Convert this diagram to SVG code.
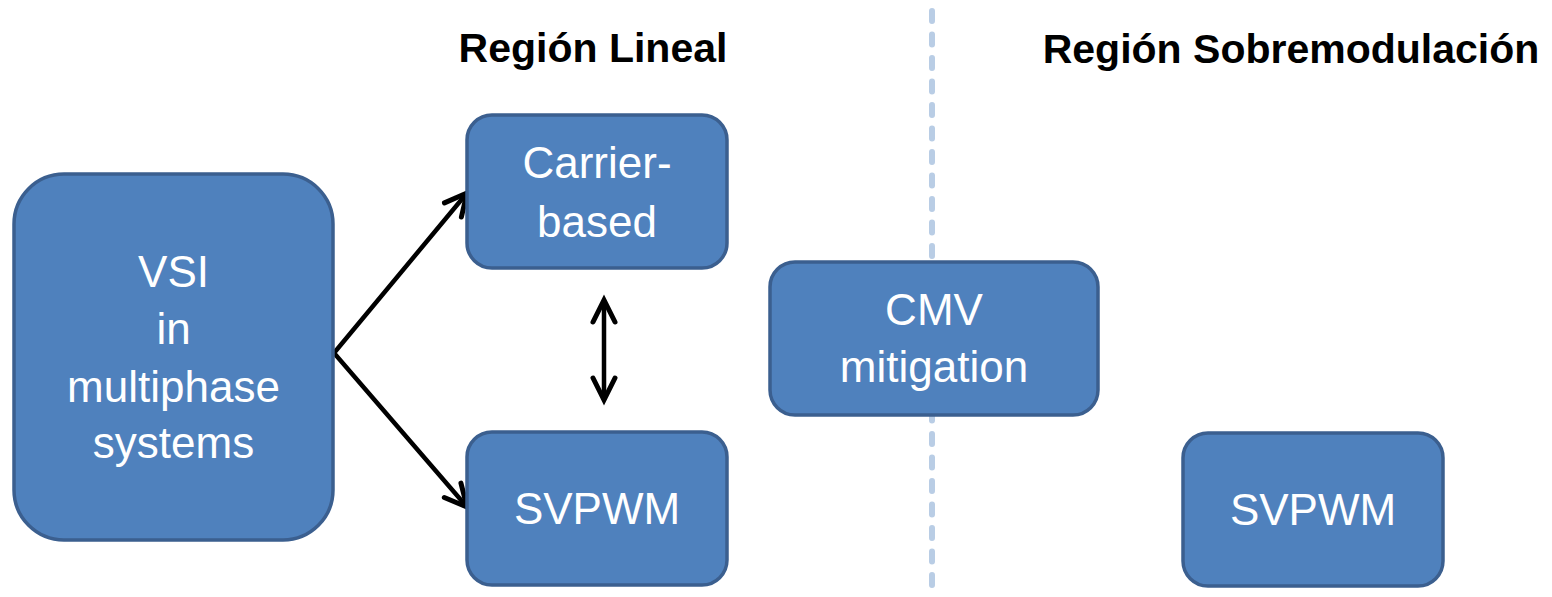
<svg xmlns="http://www.w3.org/2000/svg" width="1552" height="597" viewBox="0 0 1552 597">
<style>
.box{fill:#4F81BD;stroke:#3B5F8F;stroke-width:3.5}
.lbl{font-family:"Liberation Sans",Arial,sans-serif;font-size:44px;fill:#FFFFFF;text-anchor:middle}
.head{font-family:"Liberation Sans",Arial,sans-serif;font-size:41px;font-weight:bold;fill:#000000;text-anchor:middle}
.conn{stroke:#000000;stroke-width:4.5;fill:none}
</style>
<defs>
<marker id="ah" markerUnits="userSpaceOnUse" markerWidth="40" markerHeight="40" viewBox="-30 -20 40 40" refX="0" refY="0" orient="auto-start-reverse">
<path d="M-22,-11 L0,0 L-22,11" fill="none" stroke="#000000" stroke-width="5" stroke-linecap="round" stroke-linejoin="miter"/>
</marker>
</defs>
<line id="divider" x1="932" y1="11" x2="932" y2="597" stroke="#B9CDE5" stroke-width="6" stroke-linecap="round" stroke-dasharray="10 13.5"/>
<text class="head" x="593" y="62">Región Lineal</text>
<text class="head" x="1291" y="63">Región Sobremodulación</text>
<g id="connectors">
<polyline class="conn" points="467,193 334,353 467,507" marker-start="url(#ah)" marker-end="url(#ah)"/>
<line class="conn" x1="604" y1="300" x2="604" y2="400" marker-start="url(#ah)" marker-end="url(#ah)"/>
</g>
<g id="vsi">
<rect class="box" x="14" y="174" width="319" height="366" rx="50" ry="50"/>
<text class="lbl" x="173.5" y="287">VSI</text>
<text class="lbl" x="173.5" y="344">in</text>
<text class="lbl" x="173.5" y="402">multiphase</text>
<text class="lbl" x="173.5" y="458">systems</text>
</g>
<g id="carrier">
<rect class="box" x="467" y="115" width="260" height="153" rx="25" ry="25"/>
<text class="lbl" x="597" y="178">Carrier-</text>
<text class="lbl" x="597" y="237">based</text>
</g>
<g id="svpwm-lineal">
<rect class="box" x="467" y="432" width="260" height="153" rx="25" ry="25"/>
<text class="lbl" x="597" y="524">SVPWM</text>
</g>
<g id="cmv">
<rect class="box" x="770" y="262" width="328" height="153" rx="25" ry="25"/>
<text class="lbl" x="934" y="325">CMV</text>
<text class="lbl" x="934" y="382">mitigation</text>
</g>
<g id="svpwm-sobre">
<rect class="box" x="1183" y="433" width="260" height="153" rx="25" ry="25"/>
<text class="lbl" x="1313" y="525">SVPWM</text>
</g>
</svg>
